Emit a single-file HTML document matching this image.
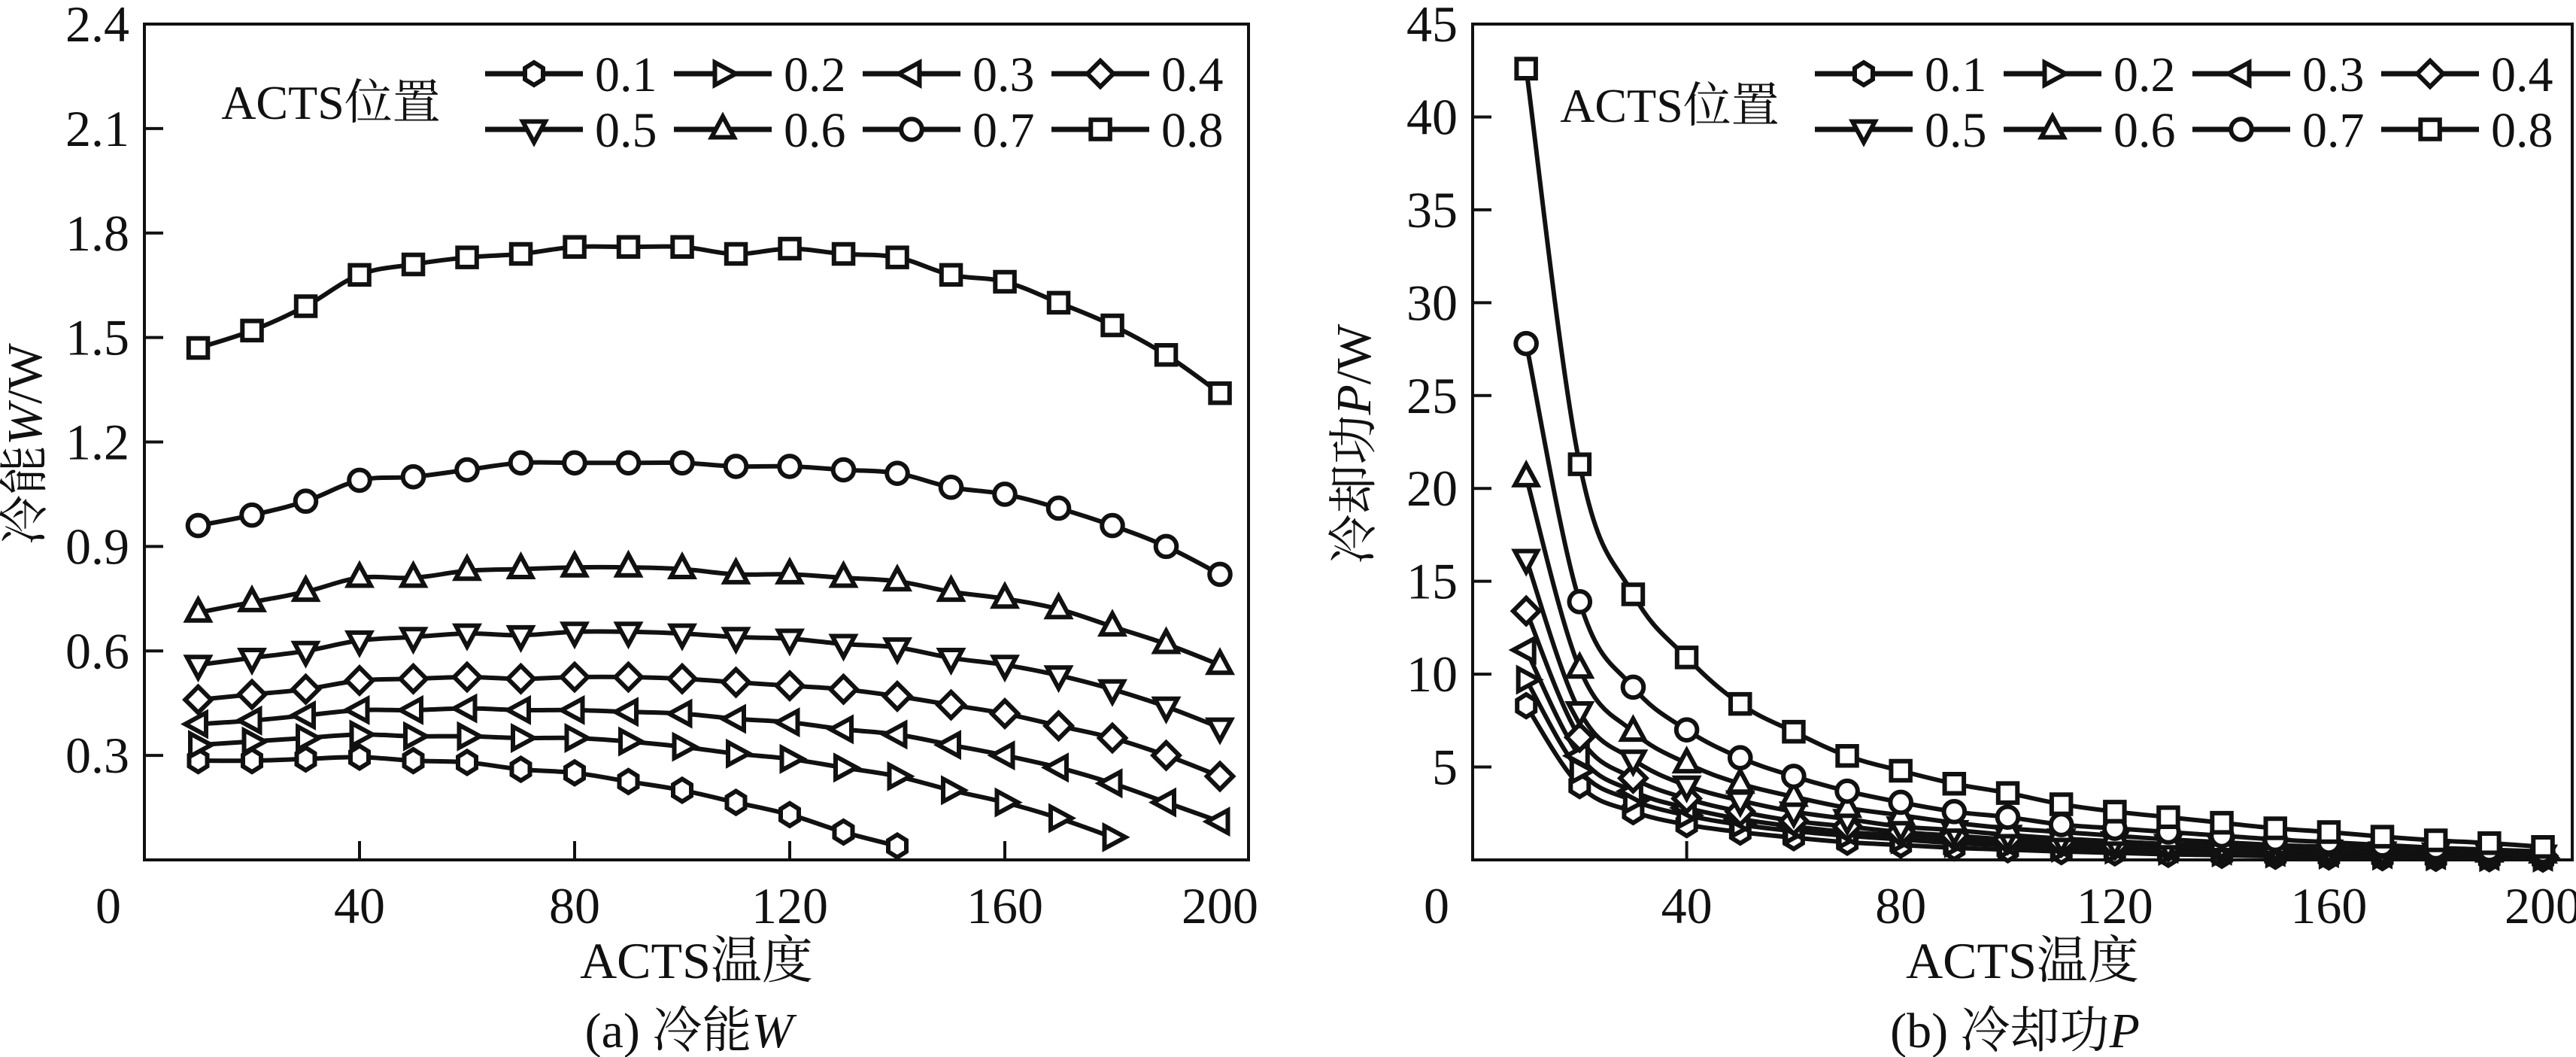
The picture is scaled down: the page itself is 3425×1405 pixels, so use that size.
<!DOCTYPE html>
<html><head><meta charset="utf-8"><style>
html,body{margin:0;padding:0;background:#fff}
svg{display:block}
svg text{font-family:"Liberation Serif","DejaVu Serif","Noto Serif CJK SC","Noto Sans CJK SC",serif;fill:#111}
</style></head><body>
<svg id="chart" width="3425" height="1405" viewBox="0 0 3425 1405" xmlns="http://www.w3.org/2000/svg" font-family="'Liberation Serif', 'DejaVu Serif', 'Noto Serif CJK SC', serif"></svg>
<script>
const xVals = [10,20,30,40,50,60,70,80,90,100,110,120,130,140,150,160,170,180,190,200];
const seriesNames = ["0.1","0.2","0.3","0.4","0.5","0.6","0.7","0.8"];
const markerShapes = ["hex","right","left","diamond","down","up","circle","square"];
const xTicks = [0,40,80,120,160,200];
const wTicks = [0.3,0.6,0.9,1.2,1.5,1.8,2.1,2.4];
const pTicks = [5,10,15,20,25,30,35,40,45];
const w01 = [0.285,0.285,0.29,0.295,0.285,0.28,0.26,0.25,0.225,0.20,0.165,0.13,0.08,0.04];
const w02 = [0.33,0.34,0.35,0.36,0.355,0.355,0.35,0.35,0.34,0.325,0.305,0.29,0.265,0.24,0.20,0.165,0.12,0.065];
const w03 = [0.39,0.40,0.415,0.43,0.43,0.435,0.43,0.43,0.425,0.42,0.405,0.395,0.375,0.36,0.33,0.30,0.265,0.22,0.165,0.11];
const w04 = [0.46,0.475,0.49,0.515,0.52,0.525,0.52,0.525,0.525,0.52,0.51,0.50,0.49,0.47,0.445,0.42,0.385,0.35,0.30,0.24];
const w05 = [0.56,0.58,0.60,0.63,0.64,0.65,0.645,0.655,0.655,0.65,0.64,0.635,0.62,0.61,0.58,0.56,0.53,0.49,0.44,0.38];
const w06 = [0.71,0.74,0.77,0.81,0.81,0.83,0.835,0.84,0.84,0.835,0.82,0.82,0.81,0.80,0.77,0.75,0.72,0.67,0.62,0.56];
const w07 = [0.96,0.99,1.03,1.09,1.10,1.12,1.14,1.14,1.14,1.14,1.13,1.13,1.12,1.11,1.07,1.05,1.01,0.96,0.90,0.82];
const w08 = [1.47,1.52,1.59,1.68,1.71,1.73,1.74,1.76,1.76,1.76,1.74,1.755,1.74,1.73,1.68,1.66,1.60,1.535,1.45,1.34];
const p01 = [8.3,4.0,2.6,1.9,1.5,1.2,0.95,0.8,0.65,0.55,0.45,0.38,0.3,0.25,0.2,0.16,0.12,0.09,0.07,0.05];
const p02 = [9.7,4.8,3.2,2.4,1.9,1.55,1.3,1.1,0.9,0.78,0.65,0.55,0.48,0.4,0.34,0.28,0.23,0.19,0.15,0.12];
const p03 = [11.3,5.6,3.7,2.8,2.2,1.8,1.5,1.3,1.1,0.9,0.8,0.7,0.6,0.5,0.42,0.36,0.3,0.25,0.2,0.17];
const p04 = [13.4,6.6,4.4,3.3,2.6,2.1,1.8,1.5,1.3,1.1,0.95,0.8,0.7,0.6,0.5,0.45,0.38,0.32,0.27,0.22];
const p05 = [16.2,8.0,5.4,4.0,3.2,2.6,2.2,1.8,1.6,1.35,1.15,1.0,0.85,0.75,0.65,0.55,0.45,0.4,0.33,0.28];
const p06 = [20.6,10.3,6.9,5.2,4.1,3.4,2.8,2.4,2.0,1.7,1.5,1.3,1.1,0.95,0.8,0.7,0.6,0.5,0.4,0.35];
const p07 = [27.8,13.9,9.3,7.0,5.5,4.5,3.7,3.1,2.6,2.3,1.9,1.7,1.5,1.3,1.1,0.95,0.8,0.65,0.55,0.45];
const p08 = [42.6,21.3,14.3,10.9,8.4,6.9,5.6,4.8,4.1,3.6,3.0,2.6,2.3,2.0,1.7,1.5,1.25,1.05,0.9,0.7];
const wSeries = [w01,w02,w03,w04,w05,w06,w07,w08];
const pSeries = [p01,p02,p03,p04,p05,p06,p07,p08];

const NS = "http://www.w3.org/2000/svg";
const svg = document.getElementById("chart");
const FF = "'Liberation Serif', 'DejaVu Serif', 'Noto Serif CJK SC', serif";
function mk(tag, attrs, parent){
  const e = document.createElementNS(NS, tag);
  for (const k in attrs) e.setAttribute(k, attrs[k]);
  (parent||svg).appendChild(e);
  return e;
}
function txt(s, x, y, size, anchor, parent){
  const t = mk("text", {x:x, y:y, "font-size":size, "text-anchor":anchor||"middle", "font-family":FF}, parent);
  t.textContent = s;
  return t;
}
function markerPath(shape, cx, cy, r){
  let pts;
  if (shape==="square") pts=[[-r*0.85,-r*0.85],[r*0.85,-r*0.85],[r*0.85,r*0.85],[-r*0.85,r*0.85]];
  else if (shape==="hex") pts=[[0,-r],[r*0.8,-r*0.5],[r*0.8,r*0.5],[0,r],[-r*0.8,r*0.5],[-r*0.8,-r*0.5]];
  else if (shape==="diamond") pts=[[0,-r*1.15],[r*1.15,0],[0,r*1.15],[-r*1.15,0]];
  else if (shape==="up") pts=[[0,-r*1.15],[r,r*0.7],[-r,r*0.7]];
  else if (shape==="down") pts=[[0,r*1.15],[r,-r*0.7],[-r,-r*0.7]];
  else if (shape==="right") pts=[[r*1.15,0],[-r*0.7,-r],[-r*0.7,r]];
  else if (shape==="left") pts=[[-r*1.15,0],[r*0.7,-r],[r*0.7,r]];
  return "M"+pts.map(p=>(cx+p[0]).toFixed(1)+","+(cy+p[1]).toFixed(1)).join("L")+"Z";
}
function drawMarker(shape, cx, cy, r, parent){
  if (shape==="circle") return mk("circle",{cx:cx,cy:cy,r:r*0.92,fill:"#fff",stroke:"#111","stroke-width":6},parent);
  return mk("path",{d:markerPath(shape,cx,cy,r),fill:"#fff",stroke:"#111","stroke-width":6},parent);
}
function smoothPath(pts){
  let d = "M"+pts[0][0].toFixed(1)+","+pts[0][1].toFixed(1);
  for (let i=0;i<pts.length-1;i++){
    const p0=pts[Math.max(0,i-1)], p1=pts[i], p2=pts[i+1], p3=pts[Math.min(pts.length-1,i+2)];
    const t=0.18;
    const c1=[p1[0]+(p2[0]-p0[0])*t, p1[1]+(p2[1]-p0[1])*t];
    const c2=[p2[0]-(p3[0]-p1[0])*t, p2[1]-(p3[1]-p1[1])*t];
    d += "C"+c1[0].toFixed(1)+","+c1[1].toFixed(1)+" "+c2[0].toFixed(1)+","+c2[1].toFixed(1)+" "+p2[0].toFixed(1)+","+p2[1].toFixed(1);
  }
  return d;
}

function panel(cfg){
  const g = mk("g",{});
  
  
  const X = v => cfg.x0 + (v/200)*(cfg.x200-cfg.x0);
  const Y = v => cfg.yBot - (v/cfg.yMax)*(cfg.yBot-cfg.yTop);
  const frame = mk("rect",{x:cfg.x0,y:cfg.yTop,width:cfg.right-cfg.x0,height:cfg.yBot-cfg.yTop,fill:"none",stroke:"#111","stroke-width":4},g);
  
  
  const xt = mk("g",{},g);
  
  
  xTicks.forEach(v=>{
    if (v>0 && v<200) mk("line",{x1:X(v),x2:X(v),y1:cfg.yBot,y2:cfg.yBot-25,stroke:"#111","stroke-width":4},xt);
    const t = txt(String(v), v===0 ? X(0)-48 : X(v), cfg.yBot+84, 68, "middle", xt);
    
    
  });
  const yt = mk("g",{},g);
  
  
  cfg.ticks.forEach(v=>{
    if (v<cfg.yMax) mk("line",{x1:cfg.x0,x2:cfg.x0+25,y1:Y(v),y2:Y(v),stroke:"#111","stroke-width":4},yt);
    const t = txt(cfg.fmt(v), cfg.x0-20, Y(v)+23, 68, "end", yt);
    
    
  });
  cfg.data.forEach((arr, si)=>{
    const sg = mk("g",{},g);
    
    
    const pts = arr.map((v,i)=>[X(xVals[i]), Y(v)]);
    mk("path",{d:smoothPath(pts),fill:"none",stroke:"#111","stroke-width":6},sg);
    pts.forEach(p=>{
      const m = drawMarker(markerShapes[si], p[0], p[1], 15, sg);
      
      
    });
  });
  const lg = mk("g",{},g);
  
  
  const lt = txt("ACTS位置", cfg.legTitleX, cfg.legTitleY, 64, "middle", lg);
  
  
  seriesNames.forEach((n,i)=>{
    const col=i%4, row=Math.floor(i/4);
    const lx = cfg.legX + col*251, ly = row===0 ? 98 : 172;
    const eg = mk("g",{},lg);
    
    
    mk("line",{x1:lx,x2:lx+130,y1:ly,y2:ly,stroke:"#111","stroke-width":7},eg);
    drawMarker(markerShapes[i], lx+65, ly, 15, eg);
    txt(n, lx+146, ly+23, 66, "start", eg);
  });
  const xtitle = txt("ACTS温度", (cfg.x0+cfg.right)/2, 1300, 68, "middle", g);
  
  
  const yg = mk("g",{transform:"translate("+cfg.yTitleX+",590) rotate(-90)"},g);
  
  
  const ytxt = mk("text",{x:0,y:0,"font-size":66,"text-anchor":"middle","font-family":FF},yg);
  ytxt.innerHTML = cfg.yTitle;
  const cap = mk("text",{x:(cfg.x0+cfg.right)/2-10,y:1392,"font-size":66,"text-anchor":"middle","font-family":FF},g);
  
  
  cap.innerHTML = cfg.caption;
}

panel({name:"panel-a-cooling-capacity", x0:192, x200:1622, right:1660, yTop:32, yBot:1143, yMax:2.4,
  ticks:wTicks, fmt:v=>v.toFixed(1), data:wSeries, legX:645, legTitleX:440, legTitleY:158, yTitleX:55,
  yTitle:'冷能<tspan font-style="italic">W</tspan>/W', caption:'(a) 冷能<tspan font-style="italic">W</tspan>'});
panel({name:"panel-b-cooling-power", x0:1958, x200:3381, right:3420, yTop:32, yBot:1143, yMax:45,
  ticks:pTicks, fmt:v=>String(v), data:pSeries, legX:2413, legTitleX:2220, legTitleY:162, yTitleX:1822,
  yTitle:'冷却功<tspan font-style="italic">P</tspan>/W', caption:'(b) 冷却功<tspan font-style="italic">P</tspan>'});
</script>
</body></html>
